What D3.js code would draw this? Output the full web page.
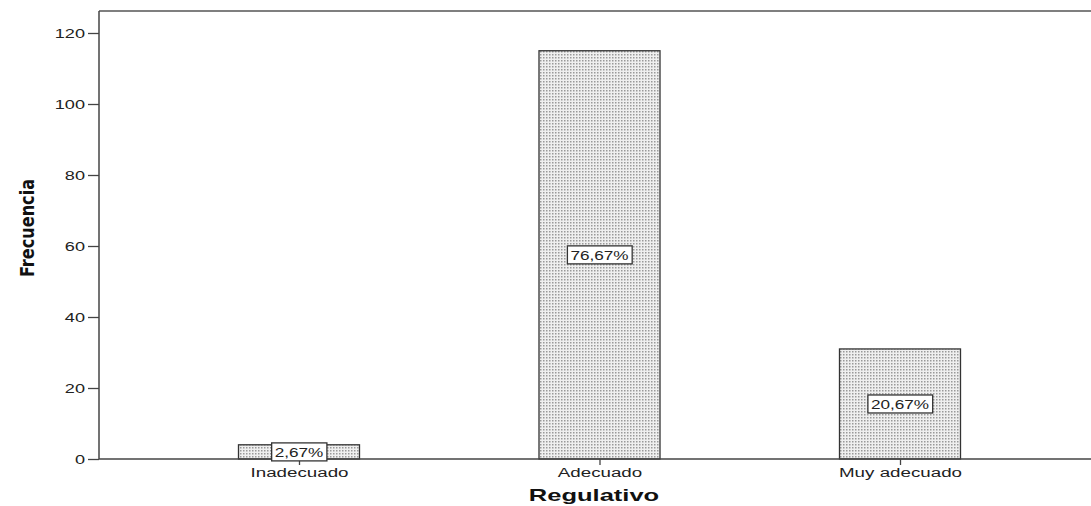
<!DOCTYPE html>
<html>
<head>
<meta charset="utf-8">
<script src="https://cdn.jsdelivr.net/npm/d3@7"></script>
<style>
  body { margin: 0; background: #fff; }
  text { font-family: "Liberation Sans", Arial, sans-serif; }
</style>
</head>
<body>
<div id="chart"></div>
<script>
// frequency of each Regulativo category (n = 150)
const categories = ['Inadecuado', 'Adecuado', 'Muy adecuado']
const counts = [4, 115, 31]
const percentLabels = ['2,67%', '76,67%', '20,67%']
const yTicks = [0, 20, 40, 60, 80, 100, 120]

const width = 1091, height = 506
const frame = { left: 99, top: 11, right: 1091, bottom: 459 }

// the reference picture is stretched sideways, so widen text to match
function stretch (sel, k) {
  sel.each(function () {
    const w = this.getComputedTextLength()
    d3.select(this).attr('textLength', w * k).attr('lengthAdjust', 'spacingAndGlyphs')
  })
}

const svg = d3.select('#chart').append('svg')
  .attr('width', width)
  .attr('height', height)

// dotted fill like the SPSS bars
const pat = svg.append('defs').append('pattern')
  .attr('id', 'dots')
  .attr('patternUnits', 'userSpaceOnUse')
  .attr('width', 3)
  .attr('height', 3)
pat.append('rect').attr('width', 3).attr('height', 3).attr('fill', '#efefef')
pat.append('rect').attr('x', 0).attr('y', 0).attr('width', 1.5).attr('height', 1.5).attr('fill', '#999')

const y = d3.scaleLinear().domain([0, 120]).range([frame.bottom, 33])
const x = d3.scalePoint().domain(categories).range([299, 900])
const barW = 121

// frame lines
svg.append('line')
  .attr('x1', frame.left).attr('x2', frame.right)
  .attr('y1', frame.top).attr('y2', frame.top)
  .attr('stroke', '#555').attr('stroke-width', 1.5)

// bars
svg.selectAll('rect.bar')
  .data(counts)
  .enter().append('rect')
  .attr('class', 'bar')
  .attr('x', (d, i) => x(categories[i]) - barW / 2)
  .attr('y', d => y(d))
  .attr('width', barW)
  .attr('height', d => y(0) - y(d))
  .attr('fill', 'url(#dots)')
  .attr('stroke', '#333')
  .attr('stroke-width', 1.3)

// y axis
const yAxis = svg.append('g')
  .attr('transform', `translate(${frame.left},0)`)
  .call(d3.axisLeft(y).tickValues(yTicks).tickSize(11).tickPadding(3).tickFormat(d3.format('d')))
yAxis.select('.domain').attr('d', `M0,${frame.top}V${frame.bottom}`).attr('stroke', '#444').attr('stroke-width', 1.5)
yAxis.selectAll('.tick line').attr('stroke', '#444').attr('stroke-width', 1.3)
yAxis.selectAll('.tick text').attr('font-size', 12.5).attr('fill', '#222').style('font-family', '"Liberation Sans", Arial, sans-serif')
stretch(yAxis.selectAll('.tick text'), 1.45)

// x axis
const xAxis = svg.append('g')
  .attr('transform', `translate(0,${frame.bottom})`)
  .call(d3.axisBottom(x).tickSize(6).tickPadding(3))
xAxis.select('.domain').attr('d', `M${frame.left},0H${frame.right}`).attr('stroke', '#444').attr('stroke-width', 1.5)
xAxis.selectAll('.tick line').attr('stroke', '#444').attr('stroke-width', 1.3)
xAxis.selectAll('.tick text').attr('font-size', 12.5).attr('fill', '#222').style('font-family', '"Liberation Sans", Arial, sans-serif')
stretch(xAxis.selectAll('.tick text'), 1.5)

// percent labels in the middle of each bar
const lab = svg.selectAll('g.lab')
  .data(counts)
  .enter().append('g')
  .attr('class', 'lab')
  .attr('transform', (d, i) => `translate(${x(categories[i])},${y(d / 2)})`)

lab.append('text')
  .attr('text-anchor', 'middle')
  .attr('dy', '0.36em')
  .attr('font-size', 13)
  .attr('fill', '#222')
  .text((d, i) => percentLabels[i])
stretch(lab.selectAll('text'), 1.32)

lab.each(function () {
  const g = d3.select(this)
  const bb = g.select('text').node().getBBox()
  g.insert('rect', 'text')
    .attr('x', bb.x - 3)
    .attr('y', -9)
    .attr('width', bb.width + 6)
    .attr('height', 18)
    .attr('fill', '#fff')
    .attr('stroke', '#333')
    .attr('stroke-width', 1.3)
})

// axis titles
const xTitle = svg.append('text')
  .attr('x', 594)
  .attr('y', 501)
  .attr('text-anchor', 'middle')
  .attr('font-size', 17)
  .attr('font-weight', 'bold')
  .attr('fill', '#111')
  .text('Regulativo')
stretch(xTitle, 1.5)

svg.append('text')
  .attr('transform', 'translate(34,228) rotate(-90)')
  .attr('text-anchor', 'middle')
  .attr('font-size', 20)
  .attr('font-weight', 'bold')
  .attr('fill', '#111')
  .style('font-family', '"DejaVu Sans Condensed", "Liberation Sans Narrow", sans-serif')
  .attr('textLength', 98)
  .attr('lengthAdjust', 'spacingAndGlyphs')
  .text('Frecuencia')
</script>
</body>
</html>
